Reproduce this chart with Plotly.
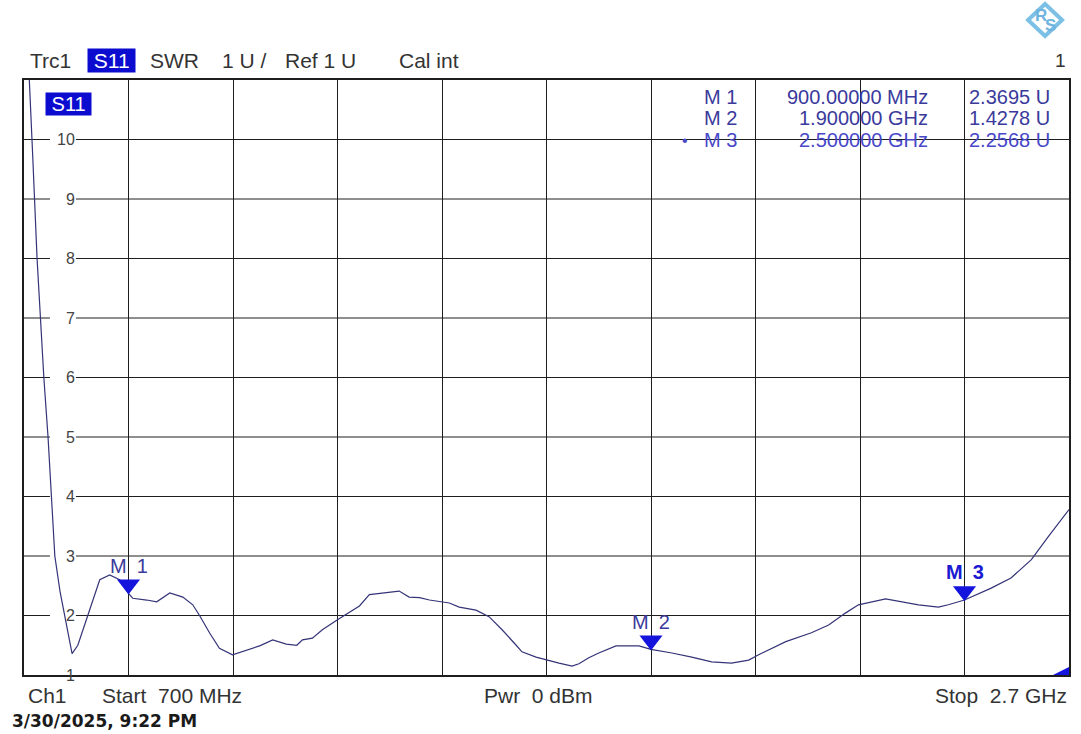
import plotly.graph_objects as go

# ---------------- data ----------------
freq_mhz = [700, 711, 717, 725, 731, 738, 746, 752, 759, 769,
            778, 792, 803, 822, 845, 864, 883, 900, 908, 935,
            954, 979, 1004, 1023, 1036, 1055, 1074, 1099, 1126, 1151,
            1176, 1202, 1222, 1233, 1252, 1271, 1300, 1342, 1361, 1386,
            1418, 1437, 1457, 1476, 1499, 1514, 1533, 1565, 1590, 1615,
            1642, 1653, 1680, 1701, 1724, 1749, 1762, 1781, 1800, 1833,
            1877, 1900, 1940, 1978, 2016, 2054, 2087, 2106, 2125, 2158,
            2207, 2240, 2272, 2297, 2349, 2379, 2412, 2450, 2469, 2500,
            2551, 2589, 2628, 2660, 2700]
swr = [13.0, 11.0, 9.66, 8.0, 7.0, 6.0, 5.0, 4.0, 3.0, 2.4,
       2.0, 1.36, 1.5, 2.0, 2.6, 2.68, 2.6, 2.37, 2.29, 2.26,
       2.23, 2.38, 2.31, 2.18, 2.0, 1.71, 1.45, 1.34, 1.42, 1.49,
       1.59, 1.52, 1.50, 1.59, 1.62, 1.76, 1.93, 2.16, 2.35, 2.38,
       2.41, 2.31, 2.30, 2.26, 2.23, 2.21, 2.14, 2.09, 1.98, 1.76,
       1.50, 1.39, 1.30, 1.25, 1.20, 1.15, 1.19, 1.29, 1.37, 1.49,
       1.49, 1.43, 1.37, 1.30, 1.22, 1.20, 1.25, 1.34, 1.42, 1.56,
       1.71, 1.84, 2.04, 2.18, 2.28, 2.23, 2.18, 2.14, 2.18, 2.26,
       2.46, 2.63, 2.94, 3.32, 3.78]

marker_names = ["M 1", "M 2", "M 3"]
marker_freq_mhz = [900, 1900, 2500]
marker_swr = [2.3695, 1.4278, 2.2568]
marker_freq_text = ["900.00000 MHz", "1.900000 GHz", "2.500000 GHz"]
marker_value_text = ["2.3695 U", "1.4278 U", "2.2568 U"]

y_tick_vals = [1, 2, 3, 4, 5, 6, 7, 8, 9, 10]
y_tick_labels = ["1", "2", "3", "4", "5", "6", "7", "8", "9", "10"]

x_start, x_stop, x_step = 700, 2700, 200
y_min, y_max = 1, 11

# ---------------- layout helpers ----------------
W, H = 1081, 734
L, R, T, B = 24, 10, 80, 59
PW, PH = W - L - R, H - T - B


def px(x):
    return (x - L) / PW


def py(y):
    return (H - B - y) / PH


def xdata(pix):
    return x_start + (pix - L) / PW * (x_stop - x_start)


FONT = "Arial, Liberation Sans, sans-serif"
TXT = "#333333"
MK = "#3a3a9c"
GRID = "#1e1e1e"
NBSP = "\u00a0"

# right-align the inside tick labels with figure spaces
y_tick_text = ["\u2008" + ("\u2007" if len(t) == 1 else "") + t for t in y_tick_labels]

fig = go.Figure()

fig.add_trace(go.Scatter(
    x=freq_mhz, y=swr, mode="lines",
    line=dict(color="#343478", width=1.2),
    hoverinfo="skip", showlegend=False,
))

fig.add_trace(go.Scatter(
    x=marker_freq_mhz, y=marker_swr, mode="markers",
    marker=dict(symbol="triangle-up", size=20, color="#1414dc",
                standoff=9, angle=180, line=dict(width=0)),
    hoverinfo="skip", showlegend=False,
))

annotations = []
# marker labels above the triangles
for i, (nm, f, v) in enumerate(zip(marker_names, marker_freq_mhz, marker_swr)):
    bold = (i == 2)
    annotations.append(dict(
        x=f, y=v, xref="x", yref="y", text=nm.replace(" ", "\u2002"),
        showarrow=False, xanchor="center", yanchor="middle", yshift=28,
        font=dict(family=FONT, size=20, color="#1a1ad2" if bold else MK,
                  weight="bold" if bold else "normal"),
    ))

# marker table
row_y = [97, 118, 140]
for i in range(3):
    col = MK if i < 2 else "#4848c8"
    annotations.append(dict(x=px(740), y=py(row_y[i]), xref="paper", yref="paper",
                            text=marker_names[i], showarrow=False, xanchor="right",
                            yanchor="middle", font=dict(family=FONT, size=20, color=col)))
    annotations.append(dict(x=px(932), y=py(row_y[i]), xref="paper", yref="paper",
                            text=marker_freq_text[i], showarrow=False, xanchor="right",
                            yanchor="middle", font=dict(family=FONT, size=20, color=col)))
    annotations.append(dict(x=px(1054), y=py(row_y[i]), xref="paper", yref="paper",
                            text=marker_value_text[i], showarrow=False, xanchor="right",
                            yanchor="middle", font=dict(family=FONT, size=20, color=col)))
annotations.append(dict(x=px(686), y=py(row_y[2]), xref="paper", yref="paper",
                        text="\u2022", showarrow=False, xanchor="center", yanchor="middle",
                        font=dict(family=FONT, size=16, color="#4848c8")))

# header
hdr_y = py(61)
for txt, x in [("Trc1", 28), ("SWR", 148), ("1 U /", 220), ("Ref 1 U", 283), ("Cal int", 398)]:
    annotations.append(dict(x=px(x), y=hdr_y, xref="paper", yref="paper", text=txt,
                            showarrow=False, xanchor="left", yanchor="middle",
                            font=dict(family=FONT, size=21, color=TXT)))
annotations.append(dict(x=px(87), y=hdr_y, xref="paper", yref="paper",
                        text=NBSP + "S11" + NBSP,
                        showarrow=False, xanchor="left", yanchor="middle",
                        bgcolor="#0c0cd0", borderpad=0,
                        font=dict(family=FONT, size=21, color="white")))
annotations.append(dict(x=px(1062), y=hdr_y, xref="paper", yref="paper", text="1",
                        showarrow=False, xanchor="center", yanchor="middle",
                        font=dict(family=FONT, size=19, color=TXT)))

# S11 label inside plot
annotations.append(dict(x=px(45), y=py(104), xref="paper", yref="paper",
                        text=NBSP + "S11" + NBSP,
                        showarrow=False, xanchor="left", yanchor="middle",
                        bgcolor="#0c0cd0", borderpad=0,
                        font=dict(family=FONT, size=20, color="white")))

# footer
ft_y = py(695)
annotations.append(dict(x=px(26), y=ft_y, xref="paper", yref="paper", text="Ch1",
                        showarrow=False, xanchor="left", yanchor="middle",
                        font=dict(family=FONT, size=21, color=TXT)))
annotations.append(dict(x=px(100), y=ft_y, xref="paper", yref="paper",
                        text="Start" + NBSP + NBSP + "700 MHz",
                        showarrow=False, xanchor="left", yanchor="middle",
                        font=dict(family=FONT, size=21, color=TXT)))
annotations.append(dict(x=px(483), y=ft_y, xref="paper", yref="paper",
                        text="Pwr" + NBSP + NBSP + "0 dBm",
                        showarrow=False, xanchor="left", yanchor="middle",
                        font=dict(family=FONT, size=21, color=TXT)))
annotations.append(dict(x=px(1071), y=ft_y, xref="paper", yref="paper",
                        text="Stop" + NBSP + NBSP + "2.7 GHz",
                        showarrow=False, xanchor="right", yanchor="middle",
                        font=dict(family=FONT, size=21, color=TXT)))
annotations.append(dict(x=px(10), y=py(721), xref="paper", yref="paper",
                        text="3/30/2025, 9:22 PM",
                        showarrow=False, xanchor="left", yanchor="middle",
                        font=dict(family="DejaVu Sans", size=17, color="#1a1a1a",
                                  weight="bold")))

# R&S logo letters
lcx, lcy = 1047, 20
annotations.append(dict(x=px(lcx - 4), y=py(lcy - 4), xref="paper", yref="paper", text="R",
                        showarrow=False, xanchor="center", yanchor="middle",
                        font=dict(family=FONT, size=17, color="#6fb4de", weight="bold")))
annotations.append(dict(x=px(lcx + 5), y=py(lcy + 5), xref="paper", yref="paper", text="S",
                        showarrow=False, xanchor="center", yanchor="middle",
                        font=dict(family=FONT, size=17, color="#6fb4de", weight="bold")))

shapes = []
# horizontal grid lines (drawn as shapes so the label gaps can sit on top)
for v in y_tick_vals[1:]:
    shapes.append(dict(type="line", xref="x", yref="y", x0=x_start, x1=x_stop,
                       y0=v, y1=v, line=dict(color=GRID, width=1), layer="below"))
# white gaps behind y tick labels
gap_h = 6 / PH * (y_max - y_min)
for v in y_tick_vals[1:]:
    shapes.append(dict(type="rect", xref="x", yref="y",
                       x0=xdata(50), x1=xdata(76), y0=v - gap_h, y1=v + gap_h,
                       fillcolor="white", line=dict(width=0), layer="below"))
# R&S diamond
cx, cy, hw, hh = px(lcx), py(lcy), 17 / PW, 16 / PH
shapes.append(dict(type="path", xref="paper", yref="paper",
                   path=f"M {cx-hw},{cy} L {cx},{cy+hh} L {cx+hw},{cy} L {cx},{cy-hh} Z",
                   line=dict(color="#7cc0e6", width=4), fillcolor="rgba(0,0,0,0)",
                   layer="above"))
# out-of-range wedge at bottom right
shapes.append(dict(type="path", xref="paper", yref="paper",
                   path=f"M {px(1055)},0 L 1,0 L 1,{8 / PH} Z",
                   line=dict(width=0), fillcolor="#1414dc", layer="above"))

fig.update_layout(
    width=W, height=H,
    margin=dict(l=L, r=R, t=T, b=B, pad=0),
    paper_bgcolor="white", plot_bgcolor="white",
    showlegend=False,
    annotations=annotations,
    shapes=shapes,
    xaxis=dict(range=[x_start, x_stop], tick0=x_start, dtick=x_step,
               showticklabels=False, ticks="", showgrid=True,
               gridcolor=GRID, gridwidth=1, zeroline=False,
               showline=True, mirror=True, linecolor=GRID, linewidth=1.5,
               fixedrange=True),
    yaxis=dict(range=[y_min, y_max], tickmode="array", tickvals=y_tick_vals,
               ticktext=y_tick_text, ticks="", showgrid=False,
               zeroline=False,
               showline=True, mirror=True, linecolor=GRID, linewidth=1.5,
               ticklabelposition="inside", ticklabelstandoff=29,
               ticklabeloverflow="allow",
               tickfont=dict(family=FONT, size=16, color="#444444"),
               fixedrange=True),
)

fig.write_html("out.html", config={"displayModeBar": False},
               post_script="document.body.style.margin='0';")
